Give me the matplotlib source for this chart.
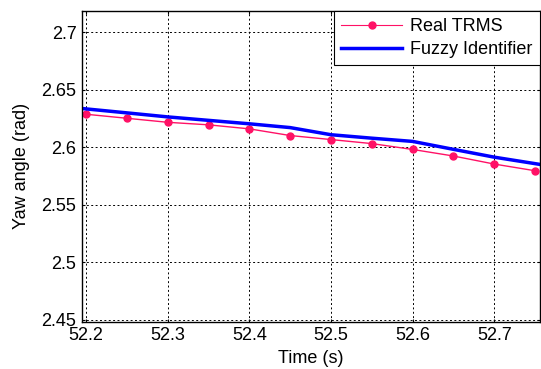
import numpy as np
import matplotlib.pyplot as plt

plt.rcParams['font.family'] = ['Liberation Sans', 'DejaVu Sans']

# data
time = [52.2, 52.25, 52.3, 52.35, 52.4, 52.45, 52.5, 52.55, 52.6, 52.65, 52.7, 52.75]
real_trms = [2.6288, 2.6253, 2.6218, 2.6196, 2.6161, 2.6103, 2.6068, 2.6033, 2.5982, 2.5925, 2.5855, 2.5797]
fuzzy_t = [52.195, 52.25, 52.3, 52.35, 52.4, 52.45, 52.5, 52.55, 52.6, 52.65, 52.7, 52.756]
fuzzy_id = [2.6338, 2.6300, 2.6265, 2.6235, 2.6205, 2.6172, 2.6110, 2.6080, 2.6052, 2.5983, 2.5915, 2.5852]

xticks = [52.2, 52.3, 52.4, 52.5, 52.6, 52.7]
yticks = [2.45, 2.5, 2.55, 2.6, 2.65, 2.7]
ytick_labels = ['2.45', '2.5', '2.55', '2.6', '2.65', '2.7']

fig = plt.figure(figsize=(5.41, 3.69), dpi=100)
ax = fig.add_axes([82 / 541, 1 - 321.7 / 369, (540 - 82) / 541, (321.7 - 10.7) / 369])

ax.plot(time, real_trms, color='#ff1166', lw=1, marker='o', ms=5, label='Real TRMS')
ax.plot(fuzzy_t, fuzzy_id, color='#0000ff', lw=2.5, label='Fuzzy Identifier')

ax.set_xlim(52.195, 52.756)
ax.set_ylim(2.4485, 2.7188)
ax.set_xticks(xticks)
ax.set_xticklabels([f'{t:.1f}' for t in xticks])
ax.set_yticks(yticks)
ax.set_yticklabels(ytick_labels)
ax.tick_params(direction='in', labelsize=13, length=2.5, pad=4, top=True, right=True)
ax.grid(True, color='black', linestyle=(0, (2, 2.5)), lw=0.7)
for s in ax.spines.values():
    s.set_linewidth(1)

ax.set_xlabel('Time (s)', fontsize=13, labelpad=4)
ax.set_ylabel('Yaw angle (rad)', fontsize=13, labelpad=8)

leg = ax.legend(loc='upper right', fontsize=13, fancybox=False, framealpha=1,
                edgecolor='black', borderaxespad=0, handlelength=3.4,
                handletextpad=0.45, borderpad=0.4, labelspacing=0.35)
leg.get_frame().set_linewidth(0.8)
leg.get_lines()[0].set_linewidth(0.8)

fig.savefig('out.png', dpi=100)
